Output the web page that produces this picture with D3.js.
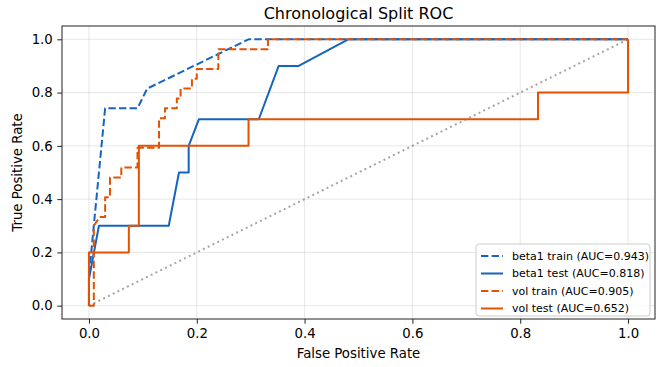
<!DOCTYPE html>
<html>
<head>
<meta charset="utf-8">
<script src="https://cdn.jsdelivr.net/npm/d3@7"></script>
<style>
  body { margin: 0; background: #fff; }
  svg { font-family: "DejaVu Sans", sans-serif; }
</style>
</head>
<body>
<div id="chart-area"></div>
<script>
// ROC data
const betaTrainFpr = [0, 0, 0.03, 0.09, 0.108, 0.296, 1];
const betaTrainTpr = [0, 0.111, 0.741, 0.741, 0.815, 1, 1];

const betaTestFpr = [0, 0, 0.0185, 0.148, 0.167, 0.185, 0.185, 0.204, 0.315, 0.352, 0.389, 0.481, 1];
const betaTestTpr = [0, 0.1, 0.3, 0.3, 0.5, 0.5, 0.6, 0.7, 0.7, 0.9, 0.9, 1, 1];

const volTrainFpr = [0, 0.009, 0.009, 0.02, 0.03, 0.03, 0.039, 0.039, 0.06, 0.06, 0.09, 0.09, 0.13, 0.13,
  0.141, 0.141, 0.163, 0.163, 0.17, 0.17, 0.191, 0.191, 0.2, 0.2, 0.24, 0.24, 0.332, 0.332, 1];
const volTrainTpr = [0, 0, 0.3, 0.333, 0.333, 0.407, 0.407, 0.481, 0.481, 0.519, 0.519, 0.593, 0.593, 0.704,
  0.704, 0.741, 0.741, 0.778, 0.778, 0.815, 0.815, 0.852, 0.852, 0.889, 0.889, 0.963, 0.963, 1, 1];

const volTestFpr = [0, 0, 0.074, 0.074, 0.0926, 0.0926, 0.296, 0.296, 0.833, 0.833, 1, 1];
const volTestTpr = [0, 0.2, 0.2, 0.3, 0.3, 0.6, 0.6, 0.7, 0.7, 0.8, 0.8, 1];

const seriesNames = ["beta1 train (AUC=0.943)", "beta1 test (AUC=0.818)", "vol train (AUC=0.905)", "vol test (AUC=0.652)"];
const tickValues = [0, 0.2, 0.4, 0.6, 0.8, 1.0];

const blue = "#1565c0", orange = "#e65100";

const W = 672, H = 367;
const mLeft = 62, mRight = 655, mTop = 26, mBottom = 319;

let svg = d3.select("#chart-area").append("svg")
    .attr("width", W)
    .attr("height", H);

let x = d3.scaleLinear().domain([-0.05, 1.05]).range([mLeft, mRight]);
let y = d3.scaleLinear().domain([-0.05, 1.05]).range([mBottom, mTop]);

// grid
svg.append("g").selectAll("line").data(tickValues).enter().append("line")
    .attr("x1", d => x(d)).attr("x2", d => x(d))
    .attr("y1", mTop).attr("y2", mBottom)
    .attr("stroke", "#b0b0b0").attr("stroke-opacity", 0.3).attr("stroke-width", 1);
svg.append("g").selectAll("line").data(tickValues).enter().append("line")
    .attr("y1", d => y(d)).attr("y2", d => y(d))
    .attr("x1", mLeft).attr("x2", mRight)
    .attr("stroke", "#b0b0b0").attr("stroke-opacity", 0.3).attr("stroke-width", 1);

// axes
let xAxis = svg.append("g").attr("transform", `translate(0,${mBottom})`)
    .call(d3.axisBottom(x).tickValues(tickValues).tickFormat(d3.format(".1f")).tickSize(4.7).tickPadding(4.5));
let yAxis = svg.append("g").attr("transform", `translate(${mLeft},0)`)
    .call(d3.axisLeft(y).tickValues(tickValues).tickFormat(d3.format(".1f")).tickSize(4.7).tickPadding(4.5));
[xAxis, yAxis].forEach(a => {
    a.select(".domain").remove();
    a.selectAll("text").attr("font-size", 13.3).attr("fill", "#000").attr("font-family", "DejaVu Sans");
    a.selectAll("line").attr("stroke", "#222").attr("stroke-width", 1);
});

// diagonal
svg.append("line")
    .attr("x1", x(0)).attr("y1", y(0)).attr("x2", x(1)).attr("y2", y(1))
    .attr("stroke", "#808080").attr("stroke-opacity", 0.7)
    .attr("stroke-width", 2).attr("stroke-dasharray", "2,3.3");

let line = d3.line().x(d => x(d[0])).y(d => y(d[1]));
const zip = (a, b) => a.map((v, i) => [v, b[i]]);

const series = [
    { pts: zip(betaTrainFpr, betaTrainTpr), color: blue, dash: "7.4,3.2" },
    { pts: zip(betaTestFpr, betaTestTpr), color: blue, dash: null },
    { pts: zip(volTrainFpr, volTrainTpr), color: orange, dash: "7.4,3.2" },
    { pts: zip(volTestFpr, volTestTpr), color: orange, dash: null }
];

series.forEach(s => {
    svg.append("path")
        .attr("d", line(s.pts))
        .attr("fill", "none")
        .attr("stroke", s.color)
        .attr("stroke-width", 2)
        .attr("stroke-dasharray", s.dash)
        .attr("stroke-linejoin", "round");
});

// frame
svg.append("rect")
    .attr("x", mLeft).attr("y", mTop).attr("width", mRight - mLeft).attr("height", mBottom - mTop)
    .attr("fill", "none").attr("stroke", "#222").attr("stroke-width", 1);

// title and labels
svg.append("text").attr("x", (mLeft + mRight) / 2).attr("y", 19)
    .attr("text-anchor", "middle").attr("font-size", 16).text("Chronological Split ROC");
svg.append("text").attr("x", (mLeft + mRight) / 2).attr("y", 358)
    .attr("text-anchor", "middle").attr("font-size", 13.3).text("False Positive Rate");
svg.append("text").attr("transform", `translate(22,${(mTop + mBottom) / 2}) rotate(-90)`)
    .attr("text-anchor", "middle").attr("font-size", 13.3).text("True Positive Rate");

// legend
let lg = svg.append("g").attr("transform", "translate(476,244)");
lg.append("rect").attr("width", 174).attr("height", 72).attr("rx", 3)
    .attr("fill", "#fff").attr("fill-opacity", 0.8).attr("stroke", "#ccc").attr("stroke-width", 1);
series.forEach((s, i) => {
    let yy = 12 + i * 17.5;
    lg.append("line").attr("x1", 5).attr("x2", 27).attr("y1", yy).attr("y2", yy)
        .attr("stroke", s.color).attr("stroke-width", 2).attr("stroke-dasharray", s.dash);
    lg.append("text").attr("x", 36).attr("y", yy + 3.9).attr("font-size", 11).text(seriesNames[i]);
});
</script>
</body>
</html>
